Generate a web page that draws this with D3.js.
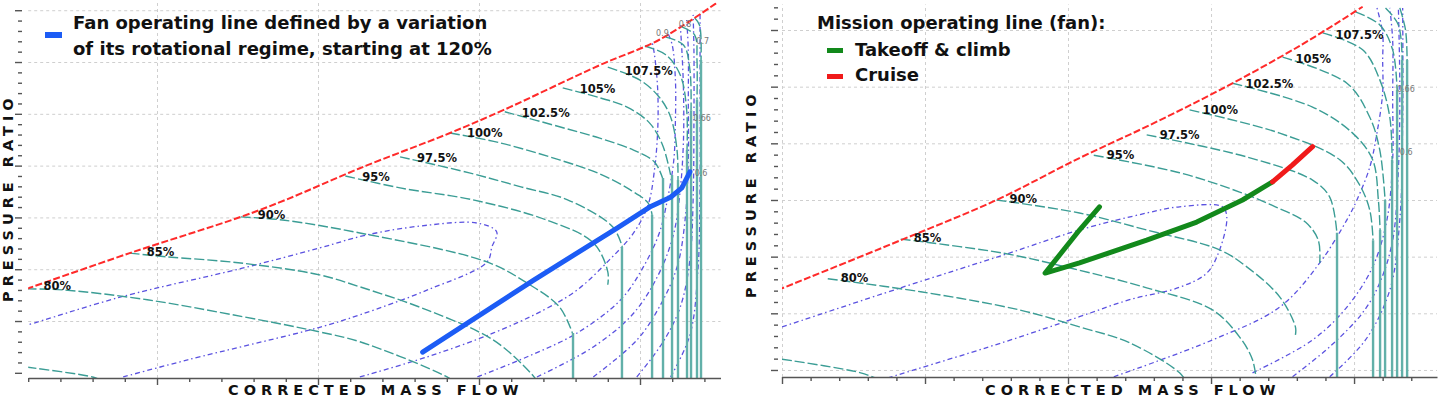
<!DOCTYPE html>
<html lang="en">
<head>
<meta charset="UTF-8">
<title>Fan map operating lines</title>
<style>
  html, body { margin: 0; padding: 0; background: #fff; }
  svg { display: block; font-family: "DejaVu Sans", "Liberation Sans", Arial, sans-serif; }
  .grid line { stroke: #cfcfcf; stroke-dasharray: 3,3; }
  .axis line, .axis path { stroke: #555; stroke-width: 1.4; }
  .speed { fill: none; stroke: #3b9d95; stroke-width: 1.4; stroke-dasharray: 10,3; }
  .choke { stroke: #62b0a9; stroke-width: 2.4; }
  .eff { fill: none; stroke: #5b52e0; stroke-width: 1.3; stroke-dasharray: 5,3,1.5,3; }
  .surge { fill: none; stroke: #ff2a2a; stroke-width: 2; stroke-dasharray: 7,2.5; }
  .speed-label { font-size: 11.5px; font-weight: bold; fill: #111; }
  .eff-label { font-size: 8px; fill: #777; }
  .axis-title { font-size: 14.5px; font-weight: bold; letter-spacing: 5px; fill: #111; }
  .legend { font-size: 18px; font-weight: bold; fill: #111; }
</style>
</head>
<body>
<svg id="chart" width="1447" height="397"></svg>

<script src="https://d3js.org/d3.v7.min.js"></script>
<script>
// ---- left map: fan operating line, corrected mass flow vs pressure ratio ----
const leftSurge = [[0.19,1.62],[0.83,2.31],[1.52,3.01],[1.80,3.34],[2.26,3.95],[2.82,4.63],[3.15,5.07],[3.75,5.94],[4.12,6.43],[4.48,7.15]];

const leftSpeedLabels = ["", "80%", "85%", "90%", "95%", "97.5%", "100%", "102.5%", "105%", "107.5%", "", "", "", ""];
const leftSpeedLines = [
    [[0.19,0.11],[0.60,-0.08],[0.65,-0.14]],
    [[0.19,1.62],[0.42,1.60],[0.94,1.41],[1.47,1.12],[2.01,0.79],[2.26,0.60],[2.79,-0.06],[2.88,-0.24]],
    [[0.83,2.31],[1.06,2.24],[1.52,2.12],[2.01,1.89],[2.26,1.66],[2.68,1.21],[3.09,0.63],[3.32,0.00],[3.38,-0.24]],
    [[1.52,3.01],[1.78,2.95],[2.26,2.70],[3.05,2.14],[3.30,1.73],[3.50,1.27],[3.58,0.77]],
    [[2.17,3.80],[2.51,3.57],[2.96,3.34],[3.42,2.95],[3.71,2.51],[3.80,1.95],[3.80,1.70]],
    [[2.51,4.17],[2.94,3.86],[3.26,3.59],[3.55,3.34],[3.83,2.82],[3.89,2.43]],
    [[2.82,4.63],[3.13,4.44],[3.50,4.11],[3.75,3.84],[3.94,3.53],[4.05,3.28],[4.075,3.05]],
    [[3.16,5.04],[3.50,4.75],[3.75,4.53],[3.96,4.30],[4.09,4.07],[4.14,3.76]],
    [[3.52,5.50],[3.75,5.31],[3.92,5.13],[4.06,4.82],[4.14,4.40],[4.19,3.82]],
    [[3.80,5.90],[4.00,5.65],[4.12,5.32],[4.19,4.94],[4.23,4.30],[4.236,3.72]],
    [[4.03,6.31],[4.16,6.14],[4.25,5.75],[4.29,5.07],[4.292,4.30]],
    [[4.16,6.48],[4.27,6.33],[4.31,5.85],[4.317,5.07]],
    [[4.26,6.68],[4.34,6.52],[4.354,6.04],[4.354,5.27]],
    [[4.34,6.85],[4.37,6.71],[4.379,6.04]]
];
const leftChoke = [null, null, null, 3.584, null, 3.888, 4.075, 4.143, 4.199, 4.236, 4.292, 4.317, 4.354, 4.379];

const leftEfficiency = [
    [[0.79,-0.08],[1.19,0.25],[2.00,0.87],[2.26,1.12],[2.68,1.60],[3.05,2.14],[3.08,2.43],[3.11,2.72],[2.99,2.89],[2.68,2.85],[2.30,2.66],[2.01,2.41],[1.53,2.02],[0.77,1.46],[0.19,0.92],[0.12,0.87]],
    [[2.26,-0.08],[2.68,0.31],[3.09,0.77],[3.40,1.21],[3.61,1.60],[3.81,2.18],[3.96,2.70],[4.05,3.24],[4.09,3.92],[4.11,4.69],[4.11,5.46],[4.09,6.14],[4.075,6.39]],
    [[2.99,-0.08],[3.30,0.31],[3.61,0.77],[3.88,1.41],[4.02,2.04],[4.12,2.70],[4.17,3.34],[4.21,4.11],[4.22,4.88],[4.22,5.65],[4.20,6.33],[4.17,6.58]],
    [[3.36,-0.08],[3.71,0.50],[3.96,1.15],[4.12,1.93],[4.21,2.70],[4.25,3.53],[4.27,4.49],[4.27,5.46],[4.26,6.23],[4.25,6.71]],
    [[3.71,-0.08],[3.98,0.63],[4.12,1.27],[4.23,2.04],[4.28,2.95],[4.30,4.11],[4.30,5.27],[4.30,6.23],[4.29,6.81]],
    [[3.98,-0.08],[4.14,0.58],[4.25,1.27],[4.31,2.18],[4.33,3.34],[4.335,4.88],[4.335,6.23],[4.33,6.91]],
    [[4.19,-0.08],[4.31,0.73],[4.36,1.99],[4.373,3.72],[4.373,5.65],[4.373,6.97]]
];
const leftEffLabels = ["0.9", "0.8", "0.7", "0.66", "0.6"];
const leftEffLabelAt = [[4.10,6.50],[4.24,6.68],[4.35,6.35],[4.33,4.86],[4.34,3.80]];

const fanOperatingLine = [[2.65,0.40],[3.34,1.79],[3.86,2.80],[4.06,3.20],[4.19,3.39],[4.26,3.57],[4.31,3.88]];

// ---- right map: mission operating line ----
const rightSurge = [[0.97,2.41],[1.83,3.29],[2.50,4.00],[3.08,4.74],[3.57,5.32],[4.06,5.94],[4.62,6.72],[5.06,7.41]];

const rightSpeedLabels = ["", "80%", "85%", "90%", "95%", "97.5%", "100%", "102.5%", "105%", "107.5%", "", "", ""];
const rightSpeedLines = [
    [[1.00,1.19],[1.55,0.95],[1.69,0.82]],
    [[1.32,2.61],[1.97,2.38],[2.66,2.06],[3.08,1.76],[3.43,1.48],[3.78,0.95],[3.84,0.74]],
    [[1.83,3.31],[2.55,3.06],[3.08,2.76],[3.55,2.45],[4.01,2.06],[4.20,1.58],[4.29,1.18],[4.32,0.74]],
    [[2.50,4.00],[3.08,3.77],[3.55,3.47],[4.06,3.12],[4.25,2.82],[4.48,2.29],[4.59,1.76],[4.59,1.62]],
    [[3.18,4.79],[3.78,4.48],[4.20,4.14],[4.45,3.88],[4.66,3.61],[4.75,3.29],[4.76,2.89]],
    [[3.55,5.15],[4.25,4.76],[4.71,4.35],[4.83,4.05],[4.88,3.42]],
    [[3.85,5.59],[4.48,5.18],[4.90,4.71],[5.04,4.26],[5.11,3.82],[5.133,3.29]],
    [[4.15,6.06],[4.71,5.64],[4.99,5.18],[5.13,4.71],[5.17,4.00],[5.182,3.47]],
    [[4.50,6.52],[4.95,6.06],[5.11,5.46],[5.18,4.88],[5.217,4.00]],
    [[4.78,6.95],[5.06,6.65],[5.18,6.12],[5.25,5.46],[5.266,4.71]],
    [[5.01,7.32],[5.18,7.09],[5.27,6.65],[5.301,5.94]],
    [[5.22,7.39],[5.31,7.09],[5.336,6.47]],
    [[5.32,7.39],[5.36,7.00],[5.371,6.47]]
];
const rightChoke = [null, null, null, null, null, 4.881, 5.133, 5.182, 5.217, 5.266, 5.301, 5.336, 5.371];

const rightEfficiency = [
    [[1.74,0.86],[2.55,1.49],[3.08,1.94],[3.43,2.24],[3.78,2.46],[3.97,2.71],[4.06,3.12],[4.11,3.70],[4.08,3.88],[3.78,3.88],[3.55,3.77],[3.08,3.47],[2.55,3.03],[1.83,2.45],[1.00,1.76],[0.95,1.72]],
    [[3.32,0.88],[4.01,1.53],[4.48,2.11],[4.76,2.89],[4.95,3.65],[5.02,4.00],[5.11,4.58],[5.16,5.18],[5.20,5.89],[5.20,6.47],[5.20,6.95],[5.16,7.39]],
    [[4.29,0.95],[4.71,1.53],[4.95,2.11],[5.13,2.82],[5.23,3.65],[5.27,4.71],[5.27,5.77],[5.27,6.82],[5.25,7.39]],
    [[4.57,0.88],[4.83,1.41],[5.06,2.01],[5.18,2.54],[5.27,3.29],[5.31,4.53],[5.32,5.94],[5.31,7.39]],
    [[4.83,0.88],[5.08,1.53],[5.25,2.41],[5.32,3.65],[5.34,5.41],[5.34,7.39]]
];
const rightEffLabels = ["0.66", "0.6"];
const rightEffLabelAt = [[5.30,5.91],[5.32,4.79]];

const takeoffClimbLine = [[3.22,3.88],[3.08,3.47],[2.84,2.71],[3.08,2.89],[3.55,3.29],[3.90,3.61],[4.22,4.00],[4.43,4.32]];
const cruiseLine = [[4.43,4.32],[4.57,4.62],[4.71,4.94]];

const leftLegendText = ["Fan operating line defined by a variation", "of its rotational regime, starting at 120%"];
const rightLegendTitle = "Mission operating line (fan):";
const rightLegendItems = ["Takeoff & climb", "Cruise"];
const xTitle = "CORRECTED MASS FLOW";
const yTitle = "PRESSURE RATIO";

const svg = d3.select('#chart');

// finds the pixel y of a polyline at a given pixel x (speed lines run left to right)
function yAtPixel(pts, px) {
    for (let i = 1; i < pts.length; i++) {
        if (pts[i][0] >= px) {
            const t = (px - pts[i - 1][0]) / (pts[i][0] - pts[i - 1][0]);
            return pts[i - 1][1] + t * (pts[i][1] - pts[i - 1][1]);
        }
    }
    return pts[pts.length - 1][1];
}

function drawPanel(p) {
    const x = d3.scaleLinear().domain(p.xDomain).range([p.left, p.right]);
    const y = d3.scaleLinear().domain(p.yDomain).range([p.bottom, p.top]);
    const width = p.right - p.left;
    const height = p.bottom - p.top;

    svg.append('clipPath').attr('id', 'clip-' + p.id)
        .append('rect')
        .attr('x', p.left).attr('y', p.top)
        .attr('width', width).attr('height', height);

    const xTicks = d3.range(p.xTickIdx[0], p.xTickIdx[1] + 1).map(i => ({ v: i * 0.2, major: i % 5 === 0 }));
    const yTicks = d3.range(p.yTickIdx[0], p.yTickIdx[1] + 1).map(i => ({ v: i * 0.2, major: i % 5 === 0 }));

    // dotted grid on the major ticks
    svg.append('g').attr('class', 'grid')
        .attr('transform', `translate(0, ${p.bottom})`)
        .call(d3.axisBottom(x).tickValues(p.gridX).tickSize(-height).tickFormat(''))
        .call(g => g.select('.domain').remove());
    svg.append('g').attr('class', 'grid')
        .attr('transform', `translate(${p.left}, 0)`)
        .call(d3.axisLeft(y).tickValues(p.gridY).tickSize(-width).tickFormat(''))
        .call(g => g.select('.domain').remove());

    const plot = svg.append('g').attr('clip-path', `url(#clip-${p.id})`);
    const curve = d3.line()
        .x(d => x(d[0]))
        .y(d => y(d[1]))
        .curve(d3.curveCatmullRom.alpha(0.5));
    const straight = d3.line().x(d => x(d[0])).y(d => y(d[1]));

    // efficiency contours
    plot.selectAll('.eff')
        .data(p.efficiency)
        .join('path')
        .attr('class', 'eff')
        .attr('d', curve);

    // speed lines and their choke verticals
    plot.selectAll('.speed')
        .data(p.speeds)
        .join('path')
        .attr('class', 'speed')
        .attr('d', curve);

    const chokes = p.speeds.map((pts, i) => ({ pts, c: p.choke[i] })).filter(d => d.c != null);
    plot.selectAll('.choke')
        .data(chokes)
        .join('line')
        .attr('class', 'choke')
        .attr('x1', d => x(d.c))
        .attr('x2', d => x(d.c))
        .attr('y1', d => y(d.pts[d.pts.length - 1][1]))
        .attr('y2', p.bottom);

    plot.append('path')
        .datum(p.surge)
        .attr('class', 'surge')
        .attr('d', curve);

    p.operating.forEach(op => {
        plot.append('path')
            .datum(op.pts)
            .attr('fill', 'none')
            .attr('stroke', op.color)
            .attr('stroke-width', 5)
            .attr('stroke-linecap', 'round')
            .attr('stroke-linejoin', 'round')
            .attr('d', straight);
    });

    // speed labels sit just right of where each line leaves the surge line
    p.speeds.forEach((pts, i) => {
        const label = p.speedLabels[i];
        if (!label) return;
        const px = pts.map(d => [x(d[0]), y(d[1])]);
        const lx = px[0][0] + p.labelDx;
        svg.append('text')
            .attr('class', 'speed-label')
            .attr('x', lx)
            .attr('y', yAtPixel(px, lx) + 1)
            .text(label);
    });

    svg.selectAll(null)
        .data(p.effLabels)
        .join('text')
        .attr('class', 'eff-label')
        .attr('x', (d, i) => x(p.effLabelAt[i][0]))
        .attr('y', (d, i) => y(p.effLabelAt[i][1]))
        .text(d => d);

    // axes: minor and major tick marks, no tick labels
    svg.append('g').attr('class', 'axis')
        .attr('transform', `translate(0, ${p.bottom})`)
        .call(d3.axisBottom(x).tickValues(xTicks.filter(d => !d.major).map(d => d.v))
            .tickSize(4).tickSizeOuter(0).tickFormat(''));
    svg.append('g').attr('class', 'axis')
        .attr('transform', `translate(0, ${p.bottom})`)
        .call(d3.axisBottom(x).tickValues(xTicks.filter(d => d.major).map(d => d.v)).tickSize(7).tickFormat(''))
        .call(g => g.select('.domain').remove());
    svg.append('g').attr('class', 'axis')
        .attr('transform', `translate(${p.yAxisX}, 0)`)
        .call(d3.axisLeft(y).tickValues(yTicks.filter(d => !d.major).map(d => d.v)).tickSize(4).tickFormat(''))
        .call(g => g.select('.domain').remove());
    svg.append('g').attr('class', 'axis')
        .attr('transform', `translate(${p.yAxisX}, 0)`)
        .call(d3.axisLeft(y).tickValues(yTicks.filter(d => d.major).map(d => d.v)).tickSize(7).tickFormat(''))
        .call(g => g.select('.domain').remove());

    svg.append('text')
        .attr('class', 'axis-title')
        .attr('x', p.xTitleX)
        .attr('y', 395)
        .text(xTitle);
    svg.append('text')
        .attr('class', 'axis-title')
        .attr('transform', `translate(${p.yTitleX}, ${p.yTitleY}) rotate(-90)`)
        .text(yTitle);
}

drawPanel({
    id: 'left',
    left: 28.2, right: 720.5, top: 2.45, bottom: 378,
    xDomain: [0.2, 4.5], yDomain: [-0.1, 7.15],
    xTickIdx: [1, 22], yTickIdx: [0, 35],
    gridX: [1, 2, 3, 4], gridY: [1, 2, 3, 4, 5, 6, 7],
    yAxisX: 22,
    surge: leftSurge,
    speeds: leftSpeedLines, speedLabels: leftSpeedLabels, choke: leftChoke, labelDx: 17,
    efficiency: leftEfficiency, effLabels: leftEffLabels, effLabelAt: leftEffLabelAt,
    operating: [{ pts: fanOperatingLine, color: '#1c5cf5' }],
    xTitleX: 228, yTitleX: 12.5, yTitleY: 302
});

drawPanel({
    id: 'right',
    left: 782, right: 1437, top: 4.5, bottom: 377,
    xDomain: [1, 5.58], yDomain: [0.876, 7.45],
    xTickIdx: [5, 27], yTickIdx: [5, 37],
    gridX: [1, 2, 3, 4, 5], gridY: [1, 2, 3, 4, 5, 6, 7],
    yAxisX: 778,
    surge: rightSurge,
    speeds: rightSpeedLines, speedLabels: rightSpeedLabels, choke: rightChoke, labelDx: 13,
    efficiency: rightEfficiency, effLabels: rightEffLabels, effLabelAt: rightEffLabelAt,
    operating: [{ pts: takeoffClimbLine, color: '#12891b' }, { pts: cruiseLine, color: '#f01a1a' }],
    xTitleX: 985, yTitleX: 756, yTitleY: 298
});

// legends
svg.append('rect').attr('x', 45).attr('y', 32).attr('width', 17).attr('height', 6).attr('fill', '#1c5cf5');
svg.append('text')
    .attr('class', 'legend')
    .selectAll('tspan')
    .data(leftLegendText)
    .join('tspan')
    .attr('x', 73)
    .attr('y', (d, i) => 29 + i * 26)
    .text(d => d);

svg.append('text').attr('class', 'legend').attr('x', 817).attr('y', 29).text(rightLegendTitle);
const legendColors = ['#12891b', '#f01a1a'];
rightLegendItems.forEach((d, i) => {
    svg.append('rect').attr('x', 827).attr('y', 48 + i * 26).attr('width', 16).attr('height', 5).attr('fill', legendColors[i]);
    svg.append('text').attr('class', 'legend').attr('x', 855).attr('y', 56 + i * 25).text(d);
});
</script>
</body>
</html>
